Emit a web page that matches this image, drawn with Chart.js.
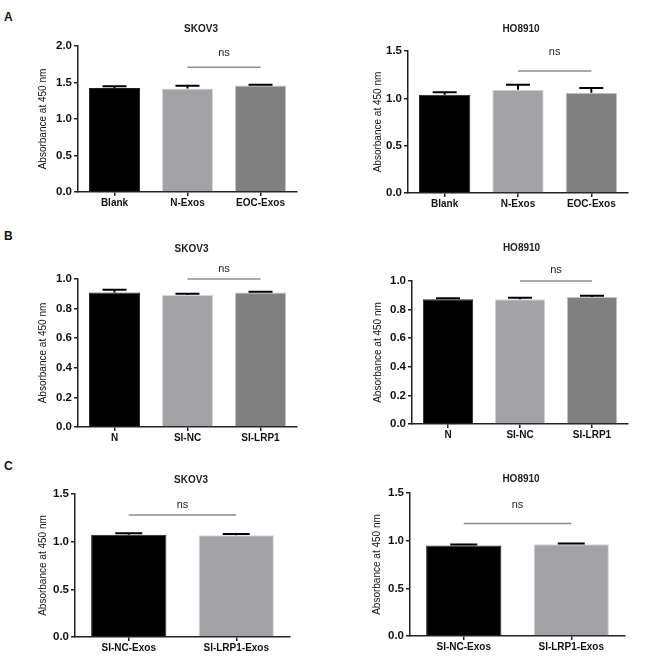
<!DOCTYPE html>
<html lang="en">
<head>
    <meta charset="UTF-8">
    <title>Absorbance at 450 nm</title>
    <style>
        html, body { margin: 0; padding: 0; background: #fff; }
        #fig { position: relative; width: 669px; height: 671px; overflow: hidden; }
        #fig canvas { position: absolute; }
        .tag { position: absolute; left: 4px; font: bold 12px 'Liberation Sans', Arial, sans-serif; color: #111; }
    </style>
</head>
<body>

<div id="fig">
    <div class="tag" style="top:10px">A</div>
    <div class="tag" style="top:229px">B</div>
    <div class="tag" style="top:459px">C</div>
    <canvas id="a1"></canvas>
    <canvas id="a2"></canvas>
    <canvas id="b1"></canvas>
    <canvas id="b2"></canvas>
    <canvas id="c1"></canvas>
    <canvas id="c2"></canvas>
</div>

<script src="https://cdn.jsdelivr.net/npm/chart.js"></script>
<script>

    // ---- data ----
    const groupsA = ['Blank', 'N-Exos', 'EOC-Exos'];
    const groupsB = ['N', 'SI-NC', 'SI-LRP1'];
    const groupsC = ['SI-NC-Exos', 'SI-LRP1-Exos'];

    // mean and error (upper SEM) per group
    const skov3A = [1.425, 1.418, 1.458];
    const skov3AErr = [0.024, 0.036, 0.010];
    const ho8910A = [1.038, 1.091, 1.060];
    const ho8910AErr = [0.026, 0.053, 0.049];

    const skov3B = [0.909, 0.892, 0.909];
    const skov3BErr = [0.019, 0.008, 0.005];
    const ho8910B = [0.872, 0.872, 0.888];
    const ho8910BErr = [0.007, 0.011, 0.009];

    const skov3C = [1.072, 1.066];
    const skov3CErr = [0.015, 0.014];
    const ho8910C = [0.949, 0.963];
    const ho8910CErr = [0.011, 0.007];

    // y tick labels
    const ticksA1 = [0, 0.5, 1.0, 1.5, 2.0];
    const ticksA2 = [0, 0.5, 1.0, 1.5];
    const ticksB = [0, 0.2, 0.4, 0.6, 0.8, 1.0];
    const ticksC = [0, 0.5, 1.0, 1.5];

    // "ns" brackets: [first group, last group, line value, label value]
    const nsA1 = [1, 2, 1.71, 1.91];
    const nsA2 = [1, 2, 1.29, 1.49];
    const nsB1 = [1, 2, 1.00, 1.07];
    const nsB2 = [1, 2, 1.00, 1.08];
    const nsC1 = [0, 1, 1.28, 1.38];
    const nsC2 = [0, 1, 1.18, 1.37];

    const barColors = ['#000000', '#a3a2a7', '#808080'];
    const barEdges = ['#222222', '#d6d6d8', '#c4c4c4'];

    const FONT = "'Liberation Sans', Arial, sans-serif";
    Chart.defaults.font.family = FONT;
    Chart.defaults.color = '#111';

    const XH = 24;          // height of x axis block
    const TITLE_SIZE = 10;
    const YTITLE_SIZE = 10;

    // error bars, drawn upward only like the original
    const errorBars = {
        id: 'errorBars',
        afterDatasetsDraw(chart) {
            const ds = chart.data.datasets[0];
            const meta = chart.getDatasetMeta(0);
            const y = chart.scales.y;
            const ctx = chart.ctx;
            ctx.save();
            ctx.strokeStyle = '#000';
            ctx.lineWidth = 2;
            meta.data.forEach((bar, i) => {
                const top = y.getPixelForValue(ds.data[i] + ds.errs[i]);
                ctx.beginPath();
                ctx.moveTo(bar.x, bar.y);
                ctx.lineTo(bar.x, top);
                ctx.moveTo(bar.x - ds.cap / 2, top);
                ctx.lineTo(bar.x + ds.cap / 2, top);
                ctx.stroke();
            });
            ctx.restore();
        }
    };

    // significance line with "ns" above it
    const nsBracket = {
        id: 'nsBracket',
        afterDraw(chart) {
            const ns = chart.data.datasets[0].ns;
            const x = chart.scales.x, y = chart.scales.y;
            const ctx = chart.ctx;
            const x0 = x.getPixelForValue(ns[0]);
            const x1 = x.getPixelForValue(ns[1]);
            const ly = y.getPixelForValue(ns[2]);
            ctx.save();
            ctx.strokeStyle = '#8c8c8c';
            ctx.lineWidth = 1.5;
            ctx.beginPath();
            ctx.moveTo(x0, ly);
            ctx.lineTo(x1, ly);
            ctx.stroke();
            ctx.fillStyle = '#222';
            ctx.font = '11px ' + FONT;
            ctx.textAlign = 'center';
            ctx.textBaseline = 'middle';
            ctx.fillText('ns', (x0 + x1) / 2, y.getPixelForValue(ns[3]));
            ctx.restore();
        }
    };

    function makePanel(g, title, labels, means, errs, ticks, ns) {
        const canvas = document.getElementById(g.id);
        const left = Math.round(g.ytitleX - 10.5);
        const lh = TITLE_SIZE * 1.2;
        const top = Math.round(g.titleY - 4 - lh / 2);
        const width = Math.round(2 * (g.titleX - left));
        const height = Math.round(g.B + XH - top);
        const yw = Math.round(g.L) - left;
        const padR = width - (Math.round(g.R) - left);
        const titleBottom = Math.round(g.T) - top - 4 - lh;

        canvas.width = width;
        canvas.height = height;
        canvas.style.left = left + 'px';
        canvas.style.top = top + 'px';

        new Chart(canvas, {
            type: 'bar',
            data: {
                labels: labels,
                datasets: [{
                    data: means,
                    errs: errs,
                    ns: ns,
                    cap: g.cap,
                    backgroundColor: barColors.slice(0, labels.length),
                    borderColor: barEdges.slice(0, labels.length),
                    borderWidth: 1,
                    barPercentage: 0.7,
                    categoryPercentage: 1.0
                }]
            },
            options: {
                responsive: false,
                animation: false,
                devicePixelRatio: 1,
                layout: { padding: 0 },
                plugins: {
                    legend: { display: false },
                    tooltip: { enabled: false },
                    title: {
                        display: true,
                        text: title,
                        color: '#222',
                        font: { size: TITLE_SIZE, weight: 'bold' },
                        padding: { top: 4, bottom: titleBottom }
                    }
                },
                scales: {
                    x: {
                        grid: { display: true, drawOnChartArea: false, offset: false, tickLength: 4, color: '#222', lineWidth: 1.5 },
                        border: { color: '#222', width: 1.5 },
                        ticks: { font: { size: 10, weight: 'bold' }, padding: 1, maxRotation: 0, color: '#111' },
                        afterFit(s) { s.height = XH; }
                    },
                    y: {
                        min: ticks[0],
                        max: ticks[ticks.length - 1],
                        afterBuildTicks(s) { s.ticks = ticks.map(v => ({ value: v })); },
                        grid: { display: true, drawOnChartArea: false, tickLength: 4, color: '#222', lineWidth: 1.5 },
                        border: { color: '#222', width: 1.5 },
                        ticks: { font: { size: 11.5, weight: 'bold' }, padding: 2, color: '#111', callback: v => v.toFixed(1) },
                        title: {
                            display: true,
                            text: 'Absorbance at 450 nm',
                            color: '#111',
                            font: { size: YTITLE_SIZE },
                            padding: { top: 10.5 - YTITLE_SIZE * 0.6, bottom: 0 }
                        },
                        afterFit(s) { s.width = yw; }
                    },
                    // empty axis only to leave room on the right
                    pad: {
                        type: 'linear',
                        position: 'right',
                        grid: { display: false },
                        border: { display: false },
                        ticks: { display: false },
                        afterFit(s) { s.width = padR; }
                    }
                }
            },
            plugins: [errorBars, nsBracket]
        });
    }

    makePanel({ id: 'a1', L: 78, T: 45.7, R: 297, B: 191.7, titleX: 201, titleY: 29, ytitleX: 43.3, cap: 24 },
        'SKOV3', groupsA, skov3A, skov3AErr, ticksA1, nsA1);
    makePanel({ id: 'a2', L: 408, T: 51, R: 628, B: 193, titleX: 521, titleY: 29, ytitleX: 378.5, cap: 24 },
        'HO8910', groupsA, ho8910A, ho8910AErr, ticksA2, nsA2);
    makePanel({ id: 'b1', L: 78, T: 279.3, R: 297, B: 427.3, titleX: 191.5, titleY: 249, ytitleX: 43.7, cap: 24 },
        'SKOV3', groupsB, skov3B, skov3BErr, ticksB, nsB1);
    makePanel({ id: 'b2', L: 412, T: 281, R: 628, B: 424, titleX: 521.7, titleY: 248, ytitleX: 378.7, cap: 24 },
        'HO8910', groupsB, ho8910B, ho8910BErr, ticksB, nsB2);
    makePanel({ id: 'c1', L: 75, T: 494, R: 290, B: 636.7, titleX: 191, titleY: 480, ytitleX: 43.3, cap: 27 },
        'SKOV3', groupsC, skov3C, skov3CErr, ticksC, nsC1);
    makePanel({ id: 'c2', L: 410, T: 493, R: 625, B: 635.7, titleX: 521, titleY: 479, ytitleX: 377.7, cap: 27 },
        'HO8910', groupsC, ho8910C, ho8910CErr, ticksC, nsC2);

</script>

</body>
</html>
